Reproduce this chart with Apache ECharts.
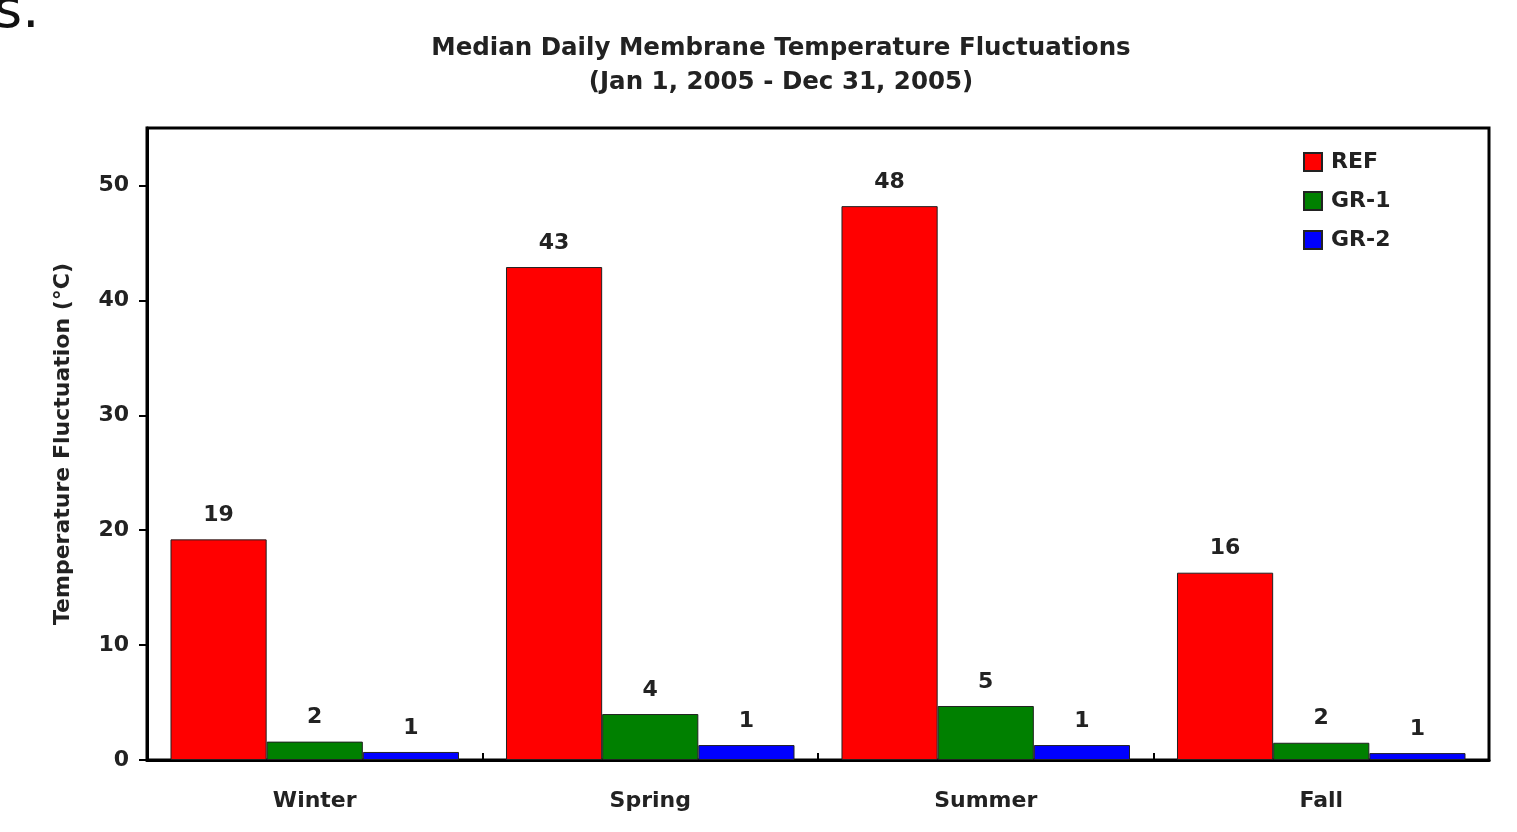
<!DOCTYPE html>
<html>
<head>
<meta charset="utf-8">
<script src="https://cdn.jsdelivr.net/npm/echarts@6/dist/echarts.min.js"></script>
<style>
  html, body { margin: 0; padding: 0; background: #fff; }
  #chart { width: 1517px; height: 832px; }
</style>
</head>
<body>
<div id="chart"></div>
<script>
// data
const seasons = ["Winter", "Spring", "Summer", "Fall"];
const refValues = [19.2, 42.9, 48.2, 16.3];
const gr1Values = [1.6, 4.0, 4.7, 1.5];
const gr2Values = [0.7, 1.3, 1.3, 0.6];
const yTicks = [0, 10, 20, 30, 40, 50];

const font = "DejaVu Sans, Verdana, sans-serif";

function barSeries(name, data, color) {
  return {
    name: name,
    type: "bar",
    data: data,
    barGap: "0%",
    barCategoryGap: "14%",
    itemStyle: { color: color, borderColor: "#222", borderWidth: 1 },
    label: {
      show: true,
      position: "top",
      distance: 13,
      color: "#222",
      fontFamily: font,
      fontWeight: "bold",
      fontSize: 22,
      formatter: p => Math.round(p.value)
    }
  };
}

let chart = echarts.init(document.getElementById("chart"));
let option = {
  animation: false,
  backgroundColor: "#fff",
  title: {
    text: "Median Daily Membrane Temperature Fluctuations\n(Jan 1, 2005 - Dec 31, 2005)",
    left: 776,
    textAlign: "center",
    top: 27,
    textStyle: {
      fontFamily: font,
      fontWeight: "bold",
      fontSize: 24.5,
      lineHeight: 34,
      color: "#222"
    }
  },
  graphic: [{
    type: "text",
    left: -6,
    top: -14,
    style: { text: "s.", fontFamily: "DejaVu Sans, sans-serif", fontSize: 54, fill: "#111" }
  }],
  legend: {
    orient: "vertical",
    left: 1298,
    top: 146,
    itemWidth: 18,
    itemHeight: 18,
    itemGap: 17,
    icon: "rect",
    data: ["REF", "GR-1", "GR-2"],
    textStyle: { fontFamily: font, fontWeight: "bold", fontSize: 22, color: "#222", padding: [0, 0, 0, 4] }
  },
  grid: {
    left: 147,
    right: 28,
    top: 128,
    bottom: 72,
    show: true,
    borderColor: "#000",
    borderWidth: 3,
    containLabel: false
  },
  xAxis: {
    type: "category",
    data: seasons,
    axisLine: { lineStyle: { color: "#000", width: 3 } },
    axisTick: { show: true, inside: true, length: 7, lineStyle: { color: "#000", width: 2 } },
    axisLabel: {
      margin: 30,
      fontFamily: font,
      fontWeight: "bold",
      fontSize: 22,
      color: "#222"
    }
  },
  yAxis: {
    type: "value",
    min: 0,
    max: 55,
    interval: 10,
    name: "Temperature Fluctuation (°C)",
    nameLocation: "middle",
    nameGap: 73,
    nameTextStyle: { fontFamily: font, fontWeight: "bold", fontSize: 22, color: "#222" },
    splitLine: { show: false },
    axisLine: { show: true, lineStyle: { color: "#000", width: 3 } },
    axisTick: { show: true, length: 8, customValues: yTicks, lineStyle: { color: "#000", width: 2 } },
    axisLabel: {
      margin: 18,
      fontFamily: font,
      fontWeight: "bold",
      fontSize: 22,
      color: "#222",
      customValues: yTicks
    }
  },
  series: [
    barSeries("REF", refValues, "#ff0000"),
    barSeries("GR-1", gr1Values, "#008000"),
    barSeries("GR-2", gr2Values, "#0000ff")
  ]
};
chart.setOption(option);
</script>
</body>
</html>
